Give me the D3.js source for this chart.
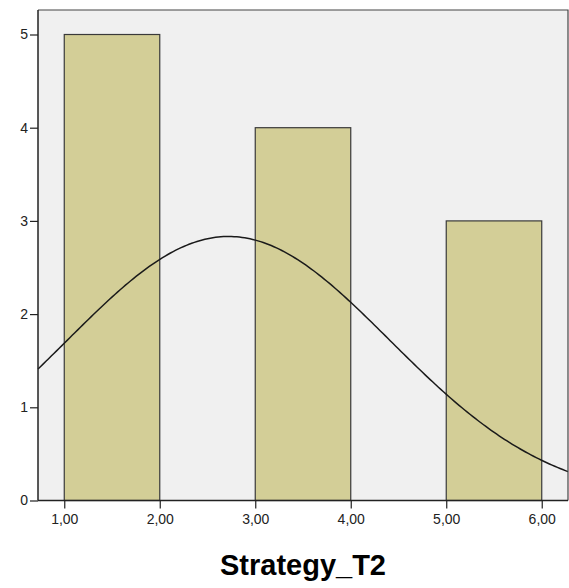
<!DOCTYPE html>
<html>
<head>
<meta charset="utf-8">
<script src="https://cdn.jsdelivr.net/npm/d3@7"></script>
<style>
  html, body { margin: 0; padding: 0; background: #ffffff; }
  svg { display: block; }
</style>
</head>
<body>
<svg id="chart" width="569" height="588"></svg>
<script>
// Histogram bins of Strategy_T2 (lower edge, upper edge, frequency)
const binStarts = [1, 3, 5];
const binEnds = [2, 4, 6];
const binCounts = [5, 4, 3];

// Fitted normal curve parameters
const sampleN = 12;
const sampleMean = 2.72;
const sampleSd = 1.69;
const binWidth = 1;

// Axis ticks
const xTicks = [1, 2, 3, 4, 5, 6];
const yTicks = [0, 1, 2, 3, 4, 5];
const xTitle = "Strategy_T2";

const svg = d3.select("#chart");
const plotLeft = 38, plotRight = 568, plotTop = 10, plotBottom = 500.5;

const x = d3.scaleLinear().domain([0.725, 6.275]).range([plotLeft, plotRight]);
const y = d3.scaleLinear().domain([0, 5]).range([plotBottom, 34.5]);

// Plot background
svg.append("rect")
  .attr("x", plotLeft).attr("y", plotTop)
  .attr("width", plotRight - plotLeft).attr("height", plotBottom - plotTop)
  .attr("fill", "#f0f0f0");

// Bars
svg.append("g").selectAll("rect")
  .data(binCounts)
  .join("rect")
  .attr("x", (d, i) => x(binStarts[i]))
  .attr("width", (d, i) => x(binEnds[i]) - x(binStarts[i]))
  .attr("y", d => y(d))
  .attr("height", d => y(0) - y(d))
  .attr("fill", "#d3ce97")
  .attr("stroke", "#3a3a3a")
  .attr("stroke-width", 1.2);

// Normal curve
const pdf = v => sampleN * binWidth / (sampleSd * Math.sqrt(2 * Math.PI)) *
  Math.exp(-0.5 * Math.pow((v - sampleMean) / sampleSd, 2));
const curveX = d3.range(0, 201).map(i => 0.725 + (6.275 - 0.725) * i / 200);
svg.append("path")
  .datum(curveX)
  .attr("fill", "none")
  .attr("stroke", "#1a1a1a")
  .attr("stroke-width", 1.5)
  .attr("d", d3.line().x(d => x(d)).y(d => y(pdf(d))));

// Frame (top and right edges)
svg.append("path")
  .attr("d", `M${plotLeft},${plotTop}H${plotRight}V${plotBottom}`)
  .attr("fill", "none")
  .attr("stroke", "#444")
  .attr("stroke-width", 1.2);

// Axes
const fmt = d => d.toFixed(2).replace(".", ",");
const xAxis = svg.append("g")
  .attr("transform", `translate(0,${plotBottom})`)
  .call(d3.axisBottom(x).tickValues(xTicks).tickFormat(fmt).tickSize(8).tickPadding(6));
const yAxis = svg.append("g")
  .attr("transform", `translate(${plotLeft},0)`)
  .call(d3.axisLeft(y).tickValues(yTicks).tickFormat(d3.format("d")).tickSize(8).tickPadding(2));

[xAxis, yAxis].forEach(g => {
  g.select(".domain").attr("stroke", "#222").attr("stroke-width", 1.5);
  g.selectAll(".tick line").attr("stroke", "#222").attr("stroke-width", 1.2);
  g.selectAll(".tick text")
    .attr("fill", "#222")
    .style("font-family", "Arial, 'Liberation Sans', sans-serif")
    .style("font-size", "14px");
});
xAxis.select(".domain").attr("d", `M${plotLeft},0H${plotRight}`);
yAxis.select(".domain").attr("d", `M0,${plotTop}V${plotBottom}`);

// Axis title
svg.append("text")
  .attr("x", (plotLeft + plotRight) / 2)
  .attr("y", 575)
  .attr("text-anchor", "middle")
  .style("font-family", "Arial, 'Liberation Sans', sans-serif")
  .style("font-weight", "bold")
  .style("font-size", "29px")
  .attr("fill", "#000")
  .text(xTitle);
</script>
</body>
</html>
